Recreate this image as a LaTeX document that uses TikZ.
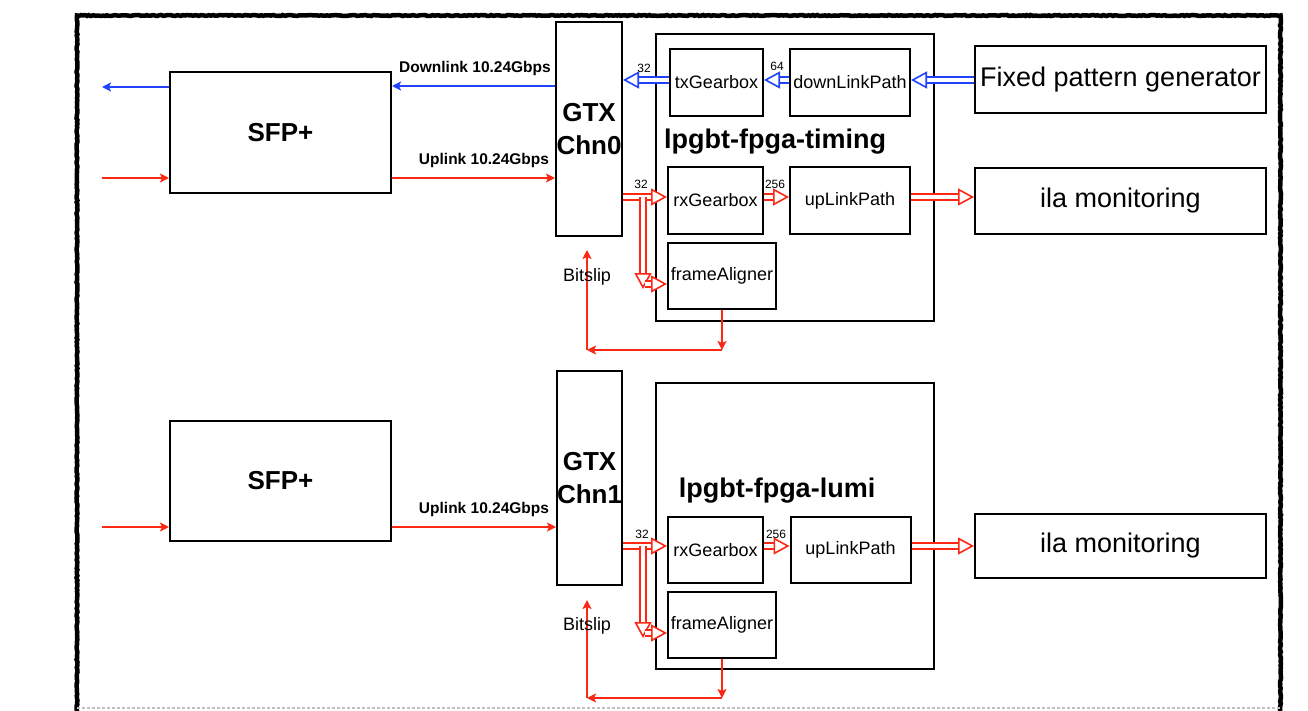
\documentclass[tikz,border=0pt]{standalone}
\usepackage{fontspec}
\setmainfont{Liberation Sans}
\usetikzlibrary{arrows.meta,decorations.pathmorphing}
\definecolor{sigred}{RGB}{252,40,20}
\definecolor{sigblue}{RGB}{34,66,250}
\newcommand{\fsz}[2]{\fontsize{#1}{#2}\selectfont}

\begin{document}
\begin{tikzpicture}[x=1pt,y=-1pt,
  blk/.style={draw, line width=2pt, inner sep=0pt, align=center, font=\fsz{18}{22}},
  bigblk/.style={blk, font=\fsz{27}{32}},
  sfpblk/.style={blk, font=\bfseries\fsz{26}{30}},
  gtxblk/.style={blk, font=\bfseries\fsz{26}{33}},
  frame/.style={draw, line width=2pt},
  title/.style={font=\bfseries\fsz{27}{32}, inner sep=0pt},
  link/.style={font=\bfseries\fsz{15.5}{18}, inner sep=0pt},
  width/.style={font=\fsz{12}{14}, inner sep=0pt},
  sig/.style={draw=#1, line width=2pt, -{Stealth[length=9pt,width=9pt,inset=2pt]}},
  hollow/.style={draw=#1, line width=1.6pt, double=white, double distance=4.6pt,
    -{Triangle[open, fill=white, length=16pt, width=17pt, line width=1.6pt]}},
]
\useasboundingbox (0,0) rectangle (1308,711);

% outer frame
\draw[line width=4.5pt, decorate, decoration={random steps, segment length=2pt, amplitude=0.5pt}]
  (77,714) -- (77,15.5) -- (1280.5,15.5) -- (1280.5,714);
\draw[black!25, line width=1.5pt, dash pattern=on 3pt off 2pt] (77,708) -- (1280.5,708);

% ---------------- channel 0 : timing ----------------
\node[sfpblk, minimum width=221, minimum height=121] (sfp0) at (280.5,132.5) {SFP+};
\node[gtxblk, minimum width=66, minimum height=214] (gtx0) at (589,129) {GTX\\Chn0};
\node[frame, minimum width=278, minimum height=287] (tbox) at (795,177.5) {};
\node[title] (ttl0) at (775,142) {lpgbt-fpga-timing};
\node[blk, minimum width=93, minimum height=67] (tx0) at (716.5,82.5) {txGearbox};
\node[blk, minimum width=120, minimum height=67] (dl0) at (850,82.5) {downLinkPath};
\node[blk, minimum width=95, minimum height=67] (rx0) at (715.5,200.5) {rxGearbox};
\node[blk, minimum width=120, minimum height=67] (ul0) at (850,200.5) {upLinkPath};
\node[blk, minimum width=108, minimum height=66] (fa0) at (722,276) {frameAligner};
\node[bigblk, minimum width=291, minimum height=67] (fpg) at (1120.5,79.5) {Fixed pattern generator};
\node[bigblk, minimum width=291, minimum height=66] (ila0) at (1120.5,201) {ila monitoring};

\coordinate (in0) at (102,178);
\coordinate (out0) at (102,87);
\draw[sig=sigblue] (sfp0.west |- out0) -- (out0);
\draw[sig=sigred] (in0) -- (sfp0.west |- in0);
\draw[sig=sigblue] (gtx0.west |- 0,86) -- (sfp0.east |- 0,86);
\draw[sig=sigred] (sfp0.east |- in0) -- (gtx0.west |- in0);
\node[link] (dl0lbl) at (475,68) {Downlink 10.24Gbps};
\node[link] (ul0lbl) at (484,160) {Uplink 10.24Gbps};

\draw[hollow=sigblue] (fpg.west |- 0,80) -- (dl0.east |- 0,80);
\draw[hollow=sigblue] (dl0.west |- 0,80) -- (tx0.east |- 0,80);
\draw[hollow=sigblue] (tx0.west |- 0,80) -- (gtx0.east |- 0,80);
\node[width] at (777,66) {64};
\node[width] at (644,68) {32};

\coordinate (br0) at (643,197);
\draw[hollow=sigred] (gtx0.east |- br0) -- (rx0.west |- br0);
\draw[hollow=sigred] (rx0.east |- br0) -- (ul0.west |- br0);
\draw[hollow=sigred] (ul0.east |- br0) -- (ila0.west |- br0);
\draw[hollow=sigred] (br0) -- (643,289);
\draw[hollow=sigred] (645,284) -- (fa0.west |- 0,284);
\node[width] at (641,184) {32};
\node[width] at (775,184) {256};

\coordinate (bs0a) at (722,350);
\coordinate (bs0b) at (587,350);
\coordinate (bs0c) at (587,250);
\draw[sig=sigred] (fa0.south) -- (bs0a);
\draw[sig=sigred] (bs0a) -- (bs0b);
\draw[sig=sigred] (bs0b) -- (bs0c);
\node[font=\fsz{18}{20}, inner sep=0pt] (bs0) at (587,277) {Bitslip};

% ---------------- channel 1 : lumi ----------------
\node[sfpblk, minimum width=221, minimum height=120] (sfp1) at (280.5,481) {SFP+};
\node[gtxblk, minimum width=65, minimum height=214] (gtx1) at (589.5,478) {GTX\\Chn1};
\node[frame, minimum width=278, minimum height=286] (lbox) at (795,526) {};
\node[title] (ttl1) at (777,491) {lpgbt-fpga-lumi};
\node[blk, minimum width=95, minimum height=66] (rx1) at (715.5,550) {rxGearbox};
\node[blk, minimum width=120, minimum height=66] (ul1) at (850.5,550) {upLinkPath};
\node[blk, minimum width=108, minimum height=66] (fa1) at (722,625) {frameAligner};
\node[bigblk, minimum width=291, minimum height=64] (ila1) at (1120.5,546) {ila monitoring};

\coordinate (in1) at (102,527);
\draw[sig=sigred] (in1) -- (sfp1.west |- in1);
\draw[sig=sigred] (sfp1.east |- in1) -- (gtx1.west |- in1);
\node[link] (ul1lbl) at (484,509) {Uplink 10.24Gbps};

\coordinate (br1) at (643,546);
\draw[hollow=sigred] (gtx1.east |- br1) -- (rx1.west |- br1);
\draw[hollow=sigred] (rx1.east |- br1) -- (ul1.west |- br1);
\draw[hollow=sigred] (ul1.east |- br1) -- (ila1.west |- br1);
\draw[hollow=sigred] (br1) -- (643,638);
\draw[hollow=sigred] (645,633) -- (fa1.west |- 0,633);
\node[width] at (642,534) {32};
\node[width] at (776,534) {256};

\coordinate (bs1a) at (722,698);
\coordinate (bs1b) at (587,698);
\coordinate (bs1c) at (587,600);
\draw[sig=sigred] (fa1.south) -- (bs1a);
\draw[sig=sigred] (bs1a) -- (bs1b);
\draw[sig=sigred] (bs1b) -- (bs1c);
\node[font=\fsz{18}{20}, inner sep=0pt] (bs1) at (587,626) {Bitslip};
\end{tikzpicture}
\end{document}
